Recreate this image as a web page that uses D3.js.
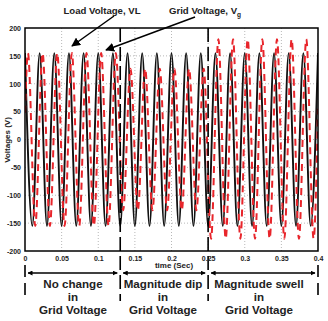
<!DOCTYPE html>
<html><head><meta charset="utf-8">
<script src="https://cdn.jsdelivr.net/npm/d3@7/dist/d3.min.js"></script>
<style>body{margin:0;background:#fff}svg{display:block;font-family:"Liberation Sans",Arial,sans-serif;font-weight:bold}</style>
</head><body>
<script>
// Load voltage extrema (time in s, value in V)
const loadTimes = [0,0.01,0.02,0.03,0.04,0.05,0.06,0.07,0.08,0.09,0.10,0.11,0.12,0.13,0.14,0.15,0.16,0.17,0.18,0.19,0.20,0.21,0.22,0.23,0.24,0.25,0.26,0.27,0.28,0.29,0.30,0.31,0.32,0.33,0.34,0.35,0.36,0.37,0.38,0.39,0.40];
const loadValues = [155,-155,155,-155,155,-155,155,-155,155,-155,155,-155,155,-155,155,-155,155,-155,155,-155,155,-155,155,-155,155,-155,155,-155,155,-155,155,-155,155,-155,155,-155,155,-155,155,-155,155];
// Grid voltage extrema
const gridTimes = [0,0.004,0.014,0.024,0.034,0.044,0.054,0.064,0.074,0.084,0.094,0.104,0.114,0.124,0.134,0.144,0.154,0.164,0.174,0.184,0.194,0.204,0.214,0.224,0.234,0.244,0.254,0.264,0.274,0.284,0.294,0.304,0.314,0.324,0.334,0.344,0.354,0.364,0.374,0.384,0.394,0.4];
const gridValues = [48,155,-155,155,-155,155,-155,155,-155,155,-155,155,-155,155,-127,127,-127,127,-127,127,-127,127,-127,127,-127,127,-178,180,-178,180,-178,180,-178,180,-178,180,-178,180,-178,180,-178,55];
const xTicks = [0,0.05,0.1,0.15,0.2,0.25,0.3,0.35,0.4];
const yTicks = [-200,-150,-100,-50,0,50,100,150,200];
const eventTimes = [0.13,0.25];
const edgeTimes = [0,0.4];
const segments = [[0,0.13],[0.13,0.25],[0.25,0.4]];
const segmentLabels = [["No change","in","Grid Voltage"],["Magnitude dip","in","Grid Voltage"],["Magnitude swell","in","Grid Voltage"]];
const segmentCenters = [73,163,259];

const W=328,H=321;
const x=d3.scaleLinear().domain([0,0.4]).range([25,318]);
const y=d3.scaleLinear().domain([-200,200]).range([251,28]);
const svg=d3.select("body").append("svg").attr("width",W).attr("height",H);
const defs=svg.append("defs");
defs.append("clipPath").attr("id","clip").append("rect").attr("x",x(0)).attr("y",y(200)).attr("width",x(0.4)-x(0)).attr("height",y(-200)-y(200));
const mk=defs.append("marker").attr("id","ah").attr("viewBox","0 0 10 10").attr("refX",9).attr("refY",5).attr("markerWidth",5).attr("markerHeight",5).attr("orient","auto-start-reverse").attr("markerUnits","userSpaceOnUse");
mk.append("path").attr("d","M0,0L10,5L0,10z").attr("fill","#000");
const mk2=defs.append("marker").attr("id","ah2").attr("viewBox","0 0 10 10").attr("refX",9).attr("refY",5).attr("markerWidth",9).attr("markerHeight",9).attr("orient","auto-start-reverse").attr("markerUnits","userSpaceOnUse");
mk2.append("path").attr("d","M0,0L10,5L0,10z").attr("fill","#000");

// grid
svg.append("g").selectAll("line").data(xTicks.slice(1,-1)).join("line")
 .attr("x1",d=>x(d)).attr("x2",d=>x(d)).attr("y1",y(200)).attr("y2",y(-200))
 .attr("stroke","#999").attr("stroke-width",0.7).attr("stroke-dasharray","1,2");
svg.append("g").selectAll("line").data(yTicks.slice(1,-1)).join("line")
 .attr("y1",d=>y(d)).attr("y2",d=>y(d)).attr("x1",x(0)).attr("x2",x(0.4))
 .attr("stroke","#999").attr("stroke-width",0.7).attr("stroke-dasharray","1,2");

const gridPts=gridTimes.map((t,i)=>[t,gridValues[i]]);
const loadPts=loadTimes.map((t,i)=>[t,loadValues[i]]);
const line=d3.line().x(d=>x(d[0])).y(d=>y(d[1])).curve(d3.curveMonotoneX);
const pg=svg.append("g").attr("clip-path","url(#clip)");
pg.append("path").attr("d",line(loadPts)).attr("fill","none").attr("stroke","#111").attr("stroke-width",1.9);
pg.append("path").attr("d",line(gridPts)).attr("fill","none").attr("stroke","#e8252b").attr("stroke-width",2).attr("stroke-dasharray","7,5");

// event lines
svg.append("g").selectAll("line").data(eventTimes).join("line")
 .attr("x1",d=>x(d)).attr("x2",d=>x(d)).attr("y1",y(200)).attr("y2",301)
 .attr("stroke","#000").attr("stroke-width",1.6).attr("stroke-dasharray","14,5");
svg.append("g").selectAll("line").data(edgeTimes).join("line")
 .attr("x1",d=>x(d)).attr("x2",d=>x(d)).attr("y1",265).attr("y2",297)
 .attr("stroke","#000").attr("stroke-width",1.6).attr("stroke-dasharray","12,6");

// frame
svg.append("rect").attr("x",x(0)).attr("y",y(200)).attr("width",x(0.4)-x(0)).attr("height",y(-200)-y(200)).attr("fill","none").attr("stroke","#000").attr("stroke-width",1.5);

// axes
const xa=svg.append("g").attr("transform",`translate(0,${y(-200)})`).call(d3.axisBottom(x).tickValues(xTicks).tickSize(0).tickPadding(5).tickFormat(d3.format("~g")));
xa.select(".domain").remove();
xa.selectAll("text").attr("font-size",7).attr("font-weight","bold").attr("font-family","Liberation Sans,Arial,sans-serif").attr("fill","#222");
const ya=svg.append("g").attr("transform",`translate(${x(0)},0)`).call(d3.axisLeft(y).tickValues(yTicks).tickSize(0).tickPadding(4).tickFormat(d=>String(d)));
ya.select(".domain").remove();
ya.selectAll("text").attr("font-size",7).attr("font-weight","bold").attr("font-family","Liberation Sans,Arial,sans-serif").attr("fill","#222");

svg.append("text").attr("x",174).attr("y",268).attr("text-anchor","middle").attr("font-size",8).attr("fill","#222").text("time (Sec)");
svg.append("text").attr("transform","translate(10,140) rotate(-90)").attr("text-anchor","middle").attr("font-size",8).attr("fill","#222").text("Voltages (V)");

// top annotations
svg.append("text").attr("x",102).attr("y",14).attr("text-anchor","middle").attr("font-size",9.6).attr("fill","#222").text("Load Voltage, VL");
const gt=svg.append("text").attr("x",169).attr("y",14).attr("font-size",9.6).attr("fill","#222");
gt.append("tspan").text("Grid Voltage, V");
gt.append("tspan").attr("font-size",6.5).attr("dy",2.5).text("g");
svg.append("line").attr("x1",114).attr("y1",16).attr("x2",72).attr("y2",46).attr("stroke","#000").attr("stroke-width",1.5).attr("marker-end","url(#ah2)");
svg.append("line").attr("x1",195).attr("y1",17).attr("x2",106).attr("y2",50).attr("stroke","#000").attr("stroke-width",1.5).attr("marker-end","url(#ah2)");

// segment arrows
svg.append("g").selectAll("line").data(segments).join("line")
 .attr("x1",d=>x(d[0])+3).attr("x2",d=>x(d[1])-3).attr("y1",273).attr("y2",273)
 .attr("stroke","#000").attr("stroke-width",1.5).attr("marker-start","url(#ah)").attr("marker-end","url(#ah)");
const lg=svg.append("g").selectAll("text").data(segmentLabels).join("text")
 .attr("text-anchor","middle").attr("font-size",11.6).attr("fill","#222");
lg.each(function(d,i){
  const t=d3.select(this);
  d.forEach((s,j)=>t.append("tspan").attr("x",segmentCenters[i]).attr("y",288+j*13).text(s));
});
</script>
</body></html>
